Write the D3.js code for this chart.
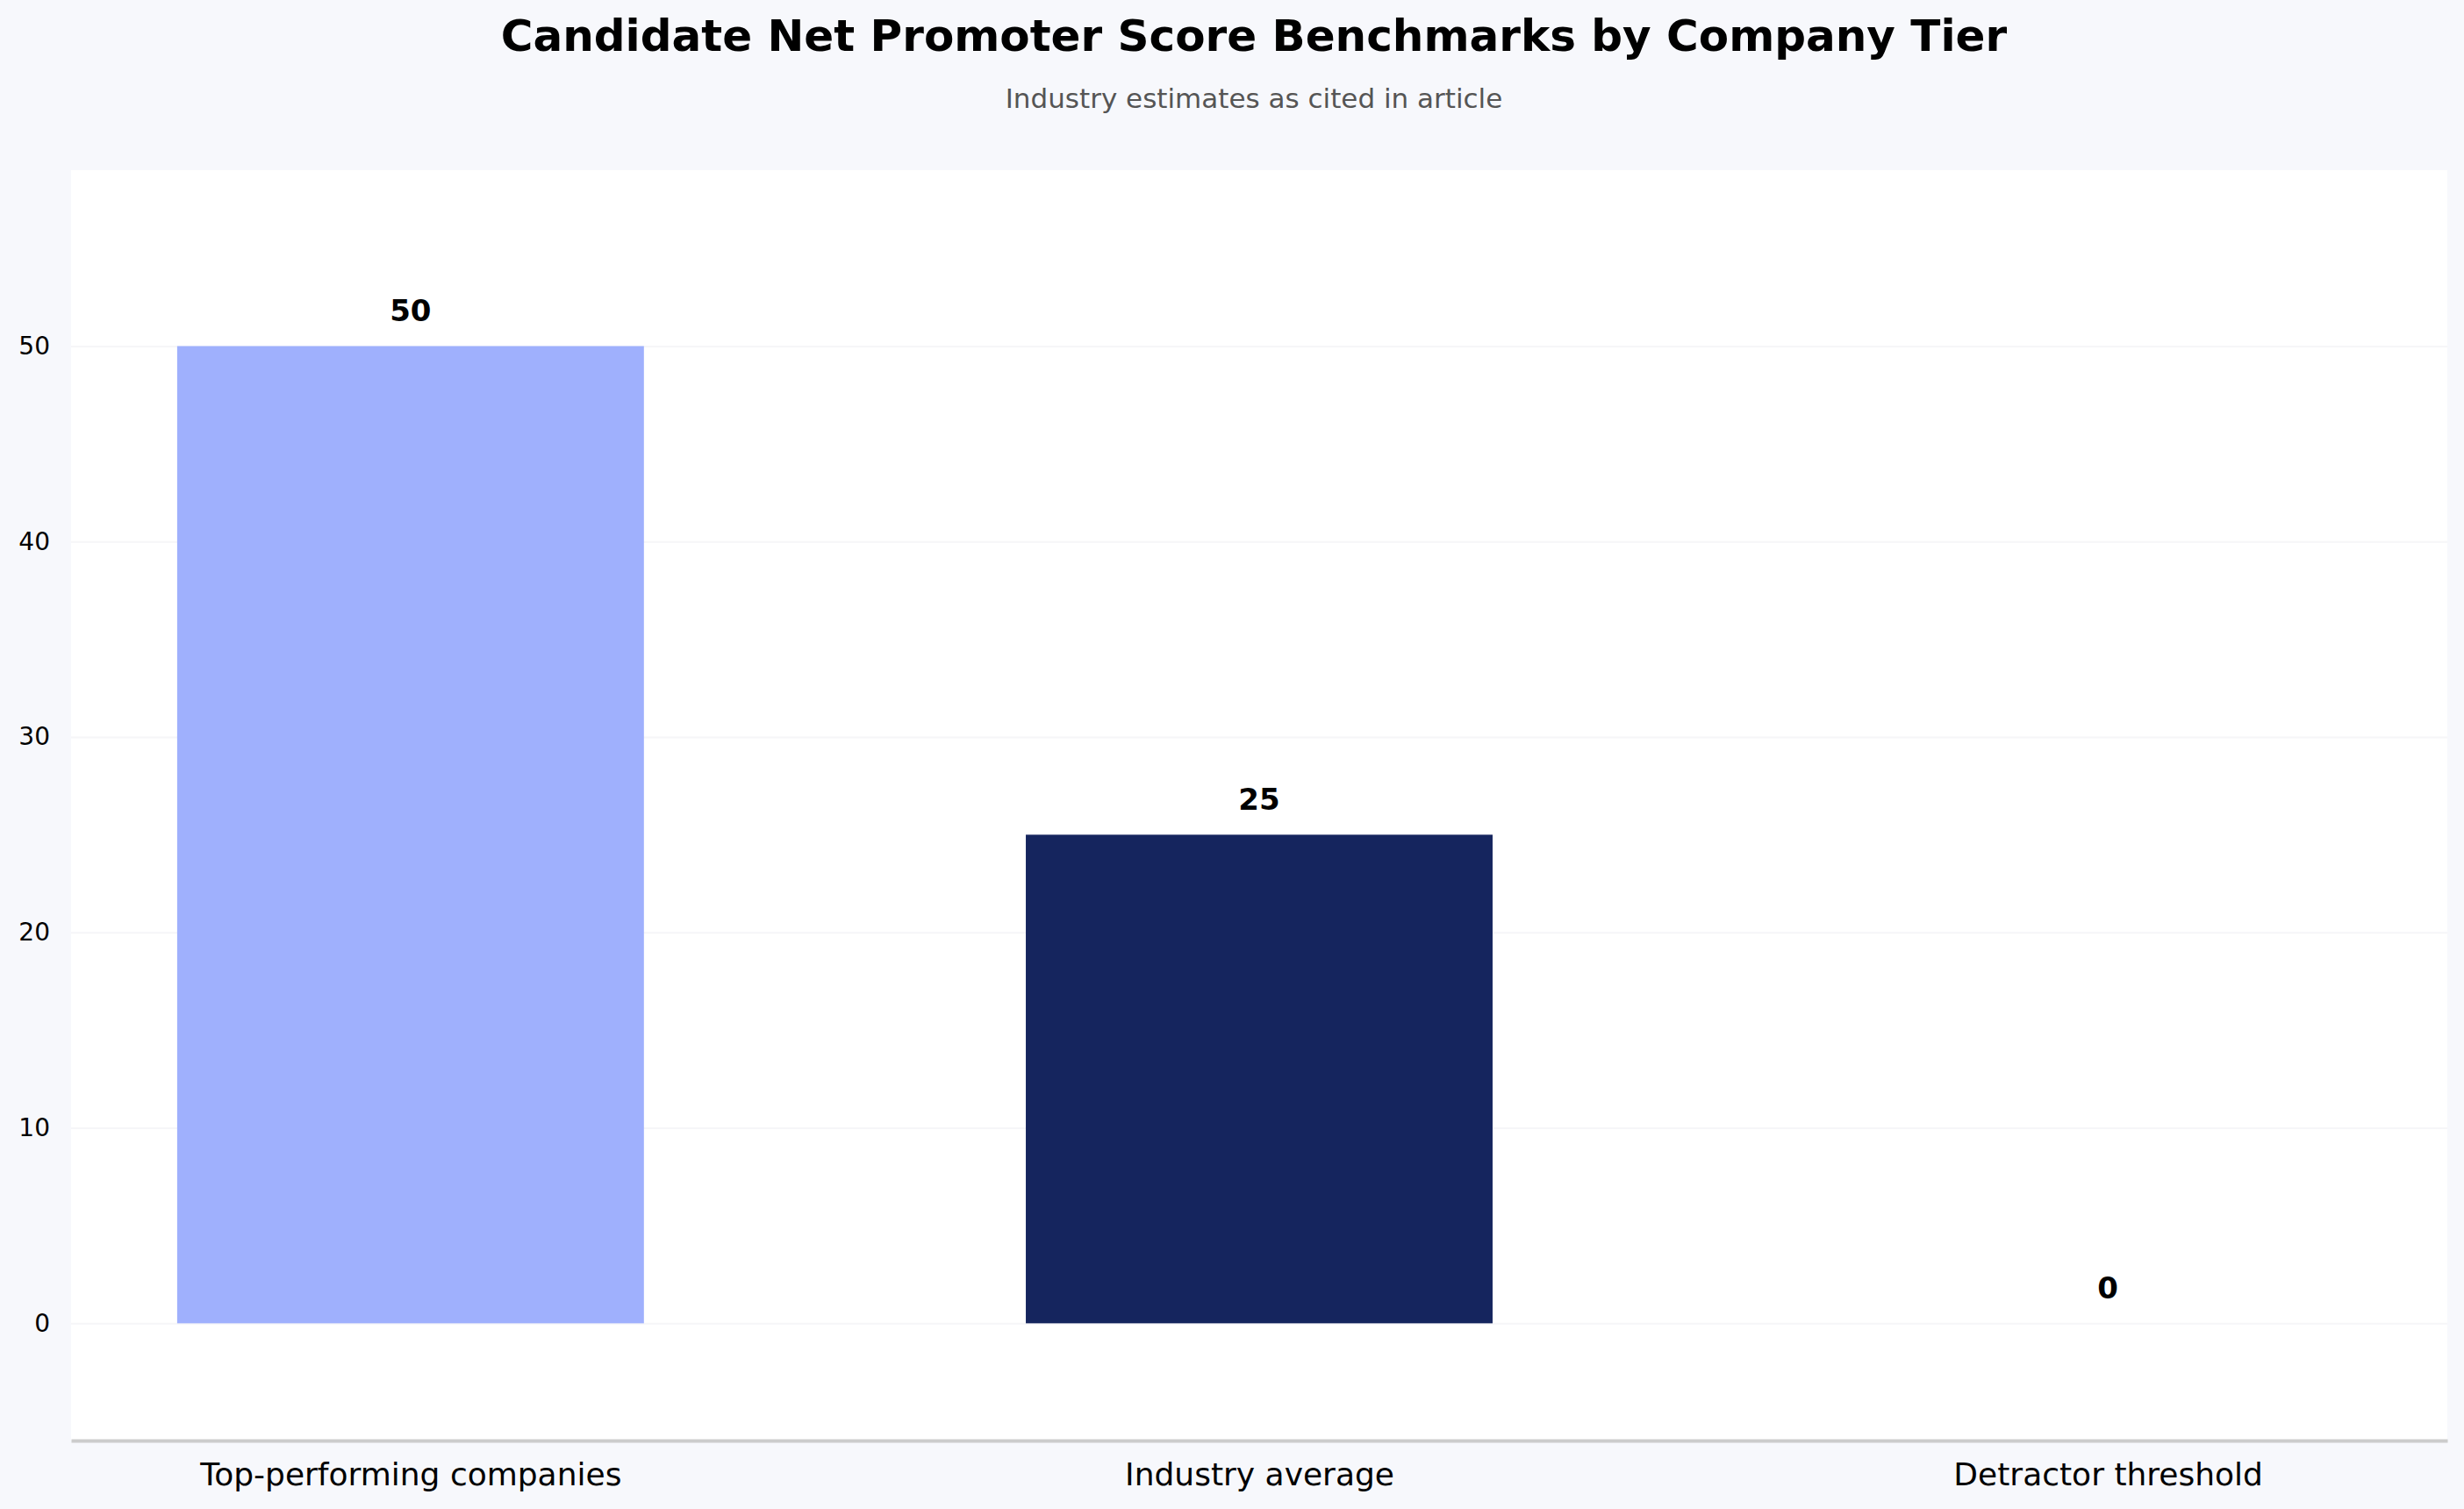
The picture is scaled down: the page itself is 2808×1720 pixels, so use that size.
<!DOCTYPE html>
<html>
<head>
<meta charset="utf-8">
<script src="https://cdn.jsdelivr.net/npm/d3@7"></script>
<style>
  body { margin: 0; background: #f7f8fc; }
  text { font-family: "DejaVu Sans", sans-serif; }
</style>
</head>
<body>
<script>
// NPS benchmarks by company tier
var categories = ["Top-performing companies", "Industry average", "Detractor threshold"];
var scores = [50, 25, 0];
var barColors = ["#9fb0fd", "#15255e", "#15255e"];
var yTicks = [0, 10, 20, 30, 40, 50];

var svgWidth = 2808, svgHeight = 1720;
var margin = {top: 194, right: 19, bottom: 78, left: 81},
    width = svgWidth - margin.left - margin.right,
    height = svgHeight - margin.top - margin.bottom;

var svg = d3.select("body").append("svg")
    .attr("width", svgWidth).attr("height", svgHeight);

svg.append("rect").attr("width", svgWidth).attr("height", svgHeight).attr("fill", "#f7f8fc");

// titles, centred over the plot area
var titleX = margin.left + width / 2 - 6;
svg.append("text")
    .attr("x", titleX).attr("y", 58)
    .attr("text-anchor", "middle")
    .attr("font-size", "50px").attr("font-weight", "bold")
    .text("Candidate Net Promoter Score Benchmarks by Company Tier");

svg.append("text")
    .attr("x", titleX).attr("y", 123)
    .attr("text-anchor", "middle")
    .attr("font-size", "31px").attr("fill", "#555")
    .text("Industry estimates as cited in article");

var chartGroup = svg.append("g").attr("transform", `translate(${margin.left},${margin.top})`);

chartGroup.append("rect").attr("width", width).attr("height", height).attr("fill", "#ffffff");

// scales
var xScale = d3.scalePoint().domain(categories).range([0, width]).padding(0.4);
var barWidth = xScale.step() * 0.55;
var yScale = d3.scaleLinear().domain([-6, 59]).range([height, 0]);

// gridlines
chartGroup.append("g")
    .attr("class", "grid")
    .call(d3.axisLeft(yScale).tickValues(yTicks).tickSize(-width).tickFormat(""))
    .call(function(g) {
      g.select(".domain").remove();
      g.selectAll("line").attr("stroke", "#f6f6f8").attr("stroke-width", 2);
    });

// bars
chartGroup.selectAll(".bar")
    .data(scores)
  .enter().append("rect")
    .attr("class", "bar")
    .attr("x", function(d, i) { return xScale(categories[i]) - barWidth / 2; })
    .attr("width", barWidth)
    .attr("y", function(d) { return yScale(Math.max(d, 0)); })
    .attr("height", function(d) { return Math.abs(yScale(d) - yScale(0)); })
    .attr("fill", function(d, i) { return barColors[i]; });

// value labels
chartGroup.selectAll(".val")
    .data(scores)
  .enter().append("text")
    .attr("class", "val")
    .attr("x", function(d, i) { return xScale(categories[i]); })
    .attr("y", function(d) { return yScale(d) - 28; })
    .attr("text-anchor", "middle")
    .attr("font-size", "34px").attr("font-weight", "bold")
    .text(function(d) { return d; });

// y axis
chartGroup.append("g")
    .call(d3.axisLeft(yScale).tickValues(yTicks).tickSize(0).tickPadding(24))
    .call(function(g) {
      g.select(".domain").remove();
      g.selectAll("text").attr("font-size", "28px").attr("fill", "#000")
        .attr("font-family", "DejaVu Sans, sans-serif");
    });

// x axis
chartGroup.append("g")
    .attr("transform", "translate(0," + height + ")")
    .call(d3.axisBottom(xScale).tickSize(0).tickPadding(25))
    .call(function(g) {
      g.select(".domain").attr("stroke", "#cccccc").attr("stroke-width", 4);
      g.selectAll("text").attr("font-size", "36px").attr("fill", "#000")
        .attr("font-family", "DejaVu Sans, sans-serif");
    });
</script>
</body>
</html>
